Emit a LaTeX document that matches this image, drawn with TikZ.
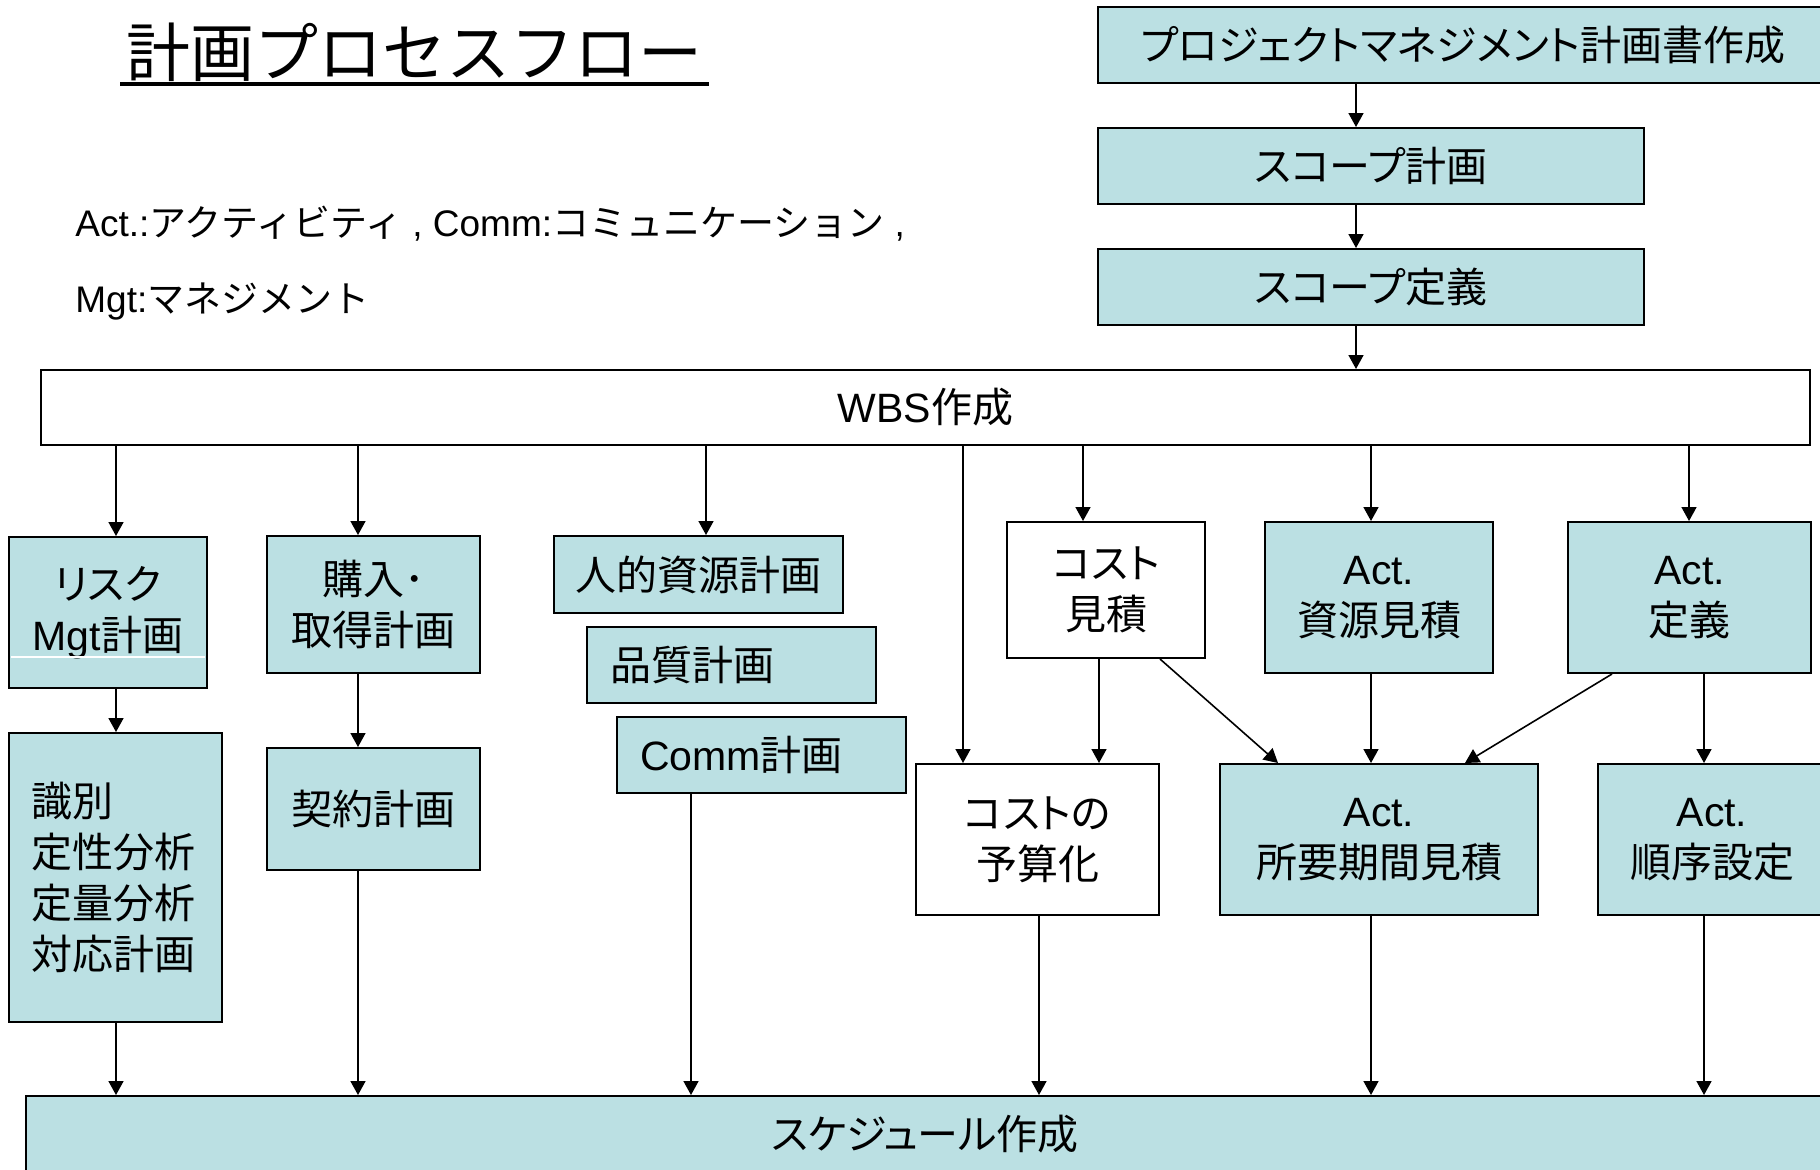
\documentclass[tikz,border=0pt]{standalone}
\usepackage{fontspec}
\setmainfont{Noto Sans CJK JP}[RawFeature=+palt]
\newfontfamily\la{Liberation Sans}
\newfontfamily\ttl{Noto Sans CJK JP}
\usetikzlibrary{arrows.meta,calc}
\definecolor{boxfill}{RGB}{187,224,227}
\newcommand\bx[7]{\node[#6, minimum width={0.5pt*(#4-#2)}, minimum height={0.5pt*(#5-#3)}] (#1) at ({(#2+#4)/2},{(#3+#5)/2}) {#7};}
\begin{document}
\begin{tikzpicture}[x=0.5pt,y=-0.5pt,
  box/.style={draw=black, line width=1pt, fill=boxfill, inner sep=0pt, align=center,
    font=\fontsize{20.5}{25.5}\selectfont},
  wbox/.style={box, fill=white},
  lbox/.style={box, align=left, inner xsep=11.5pt, inner ysep=0pt, text width=#1},
  arr/.style={-{Triangle[length=7pt,width=7.5pt]}, line width=0.8pt},
  note/.style={anchor=west, inner sep=0pt, font={\ttl\fontsize{18.5}{22}\selectfont}}
]
\useasboundingbox (0,0) rectangle (1820,1169);
\clip (0,0) rectangle (1820,1169);

% title and notes
\node[inner sep=0pt, font={\ttl\fontsize{32}{38}\selectfont}] (title) at (414,52) {計画プロセスフロー};
\draw[line width=2pt] (120,84) -- (709,84);
\node[note] (n1) at (75,224) {{\la Act.:}アクティビティ{\la ~, Comm:}コミュニケーション{\la ~,}};
\node[note] (n2) at (75,302) {{\la Mgt:}マネジメント};

% top chain
\bx{p0}{1098}{7}{1828}{83}{box}{}
\node[inner sep=0pt, font=\fontsize{20.5}{25.5}\selectfont] (p0t) at (1463,45) {プロジェクトマネジメント計画書作成};
\bx{p1}{1098}{128}{1644}{204}{box}{スコープ計画}
\bx{p2}{1098}{249}{1644}{325}{box}{スコープ定義}
\bx{wbs}{41}{370}{1810}{445}{wbox}{{\la WBS}作成}

% second row
\bx{risk}{9}{537}{207}{688}{box}{リスク\\{\la Mgt}計画}
\draw[white, line width=0.6pt] (11,657) -- (205,657);
\bx{buy}{267}{536}{480}{673}{box}{購入･\\取得計画}
\bx{hr}{554}{536}{843}{613}{box}{人的資源計画}
\node[lbox=121.5pt, minimum height=38pt] (qual) at (731.5,665) {品質計画};
\node[lbox=121.5pt, minimum height=38pt] (comm) at (761.5,755) {{\la Comm}計画};
\bx{cest}{1007}{522}{1205}{658}{wbox}{コスト\\見積}
\bx{ares}{1265}{522}{1493}{673}{box}{{\la Act.}\\資源見積}
\bx{adef}{1568}{522}{1811}{673}{box}{{\la Act.}\\定義}

% third row
\node[lbox=83.5pt, minimum height=144.5pt] (ident) at (115.5,877.5) {識別\\定性分析\\定量分析\\対応計画};
\bx{contr}{267}{748}{480}{870}{box}{契約計画}
\bx{budget}{916}{764}{1159}{915}{wbox}{コストの\\予算化}
\bx{dur}{1220}{764}{1538}{915}{box}{{\la Act.}\\所要期間見積}
\bx{seq}{1598}{764}{1826}{915}{box}{{\la Act.}\\順序設定}

% bottom
\bx{sched}{26}{1096}{1824}{1172}{box}{スケジュール作成}

% columns
\coordinate (cA) at (1356,0);
\coordinate (cR) at (116,0);
\coordinate (cB) at (358,0);
\coordinate (cH) at (706,0);
\coordinate (cC) at (691,0);
\coordinate (cW) at (963,0);
\coordinate (cE) at (1083,0);
\coordinate (cE2) at (1099,0);
\coordinate (cBu) at (1039,0);
\coordinate (cS) at (1371,0);
\coordinate (cD) at (1689,0);
\coordinate (cD2) at (1704,0);
\coordinate (dgA) at (1160,0);
\coordinate (dgB) at (1278,0);
\coordinate (dgC) at (1612,0);
\coordinate (dgD) at (1465,0);

% arrows top chain
\draw[arr] (p0.south -| cA) -- (p1.north -| cA);
\draw[arr] (p1.south -| cA) -- (p2.north -| cA);
\draw[arr] (p2.south -| cA) -- (wbs.north -| cA);

% from WBS
\draw[arr] (wbs.south -| cR) -- (risk.north -| cR);
\draw[arr] (wbs.south -| cB) -- (buy.north -| cB);
\draw[arr] (wbs.south -| cH) -- (hr.north -| cH);
\draw[arr] (wbs.south -| cW) -- (budget.north -| cW);
\draw[arr] (wbs.south -| cE) -- (cest.north -| cE);
\draw[arr] (wbs.south -| cS) -- (ares.north -| cS);
\draw[arr] (wbs.south -| cD) -- (adef.north -| cD);

% middle
\draw[arr] (risk.south -| cR) -- (ident.north -| cR);
\draw[arr] (buy.south -| cB) -- (contr.north -| cB);
\draw[arr] (cest.south -| cE2) -- (budget.north -| cE2);
\draw[arr] (cest.south -| dgA) -- (dur.north -| dgB);
\draw[arr] (ares.south -| cS) -- (dur.north -| cS);
\draw[arr] (adef.south -| dgC) -- (dur.north -| dgD);
\draw[arr] (adef.south -| cD2) -- (seq.north -| cD2);

% to schedule
\draw[arr] (ident.south -| cR) -- (sched.north -| cR);
\draw[arr] (contr.south -| cB) -- (sched.north -| cB);
\draw[arr] (comm.south -| cC) -- (sched.north -| cC);
\draw[arr] (budget.south -| cBu) -- (sched.north -| cBu);
\draw[arr] (dur.south -| cS) -- (sched.north -| cS);
\draw[arr] (seq.south -| cD2) -- (sched.north -| cD2);
\end{tikzpicture}
\end{document}
